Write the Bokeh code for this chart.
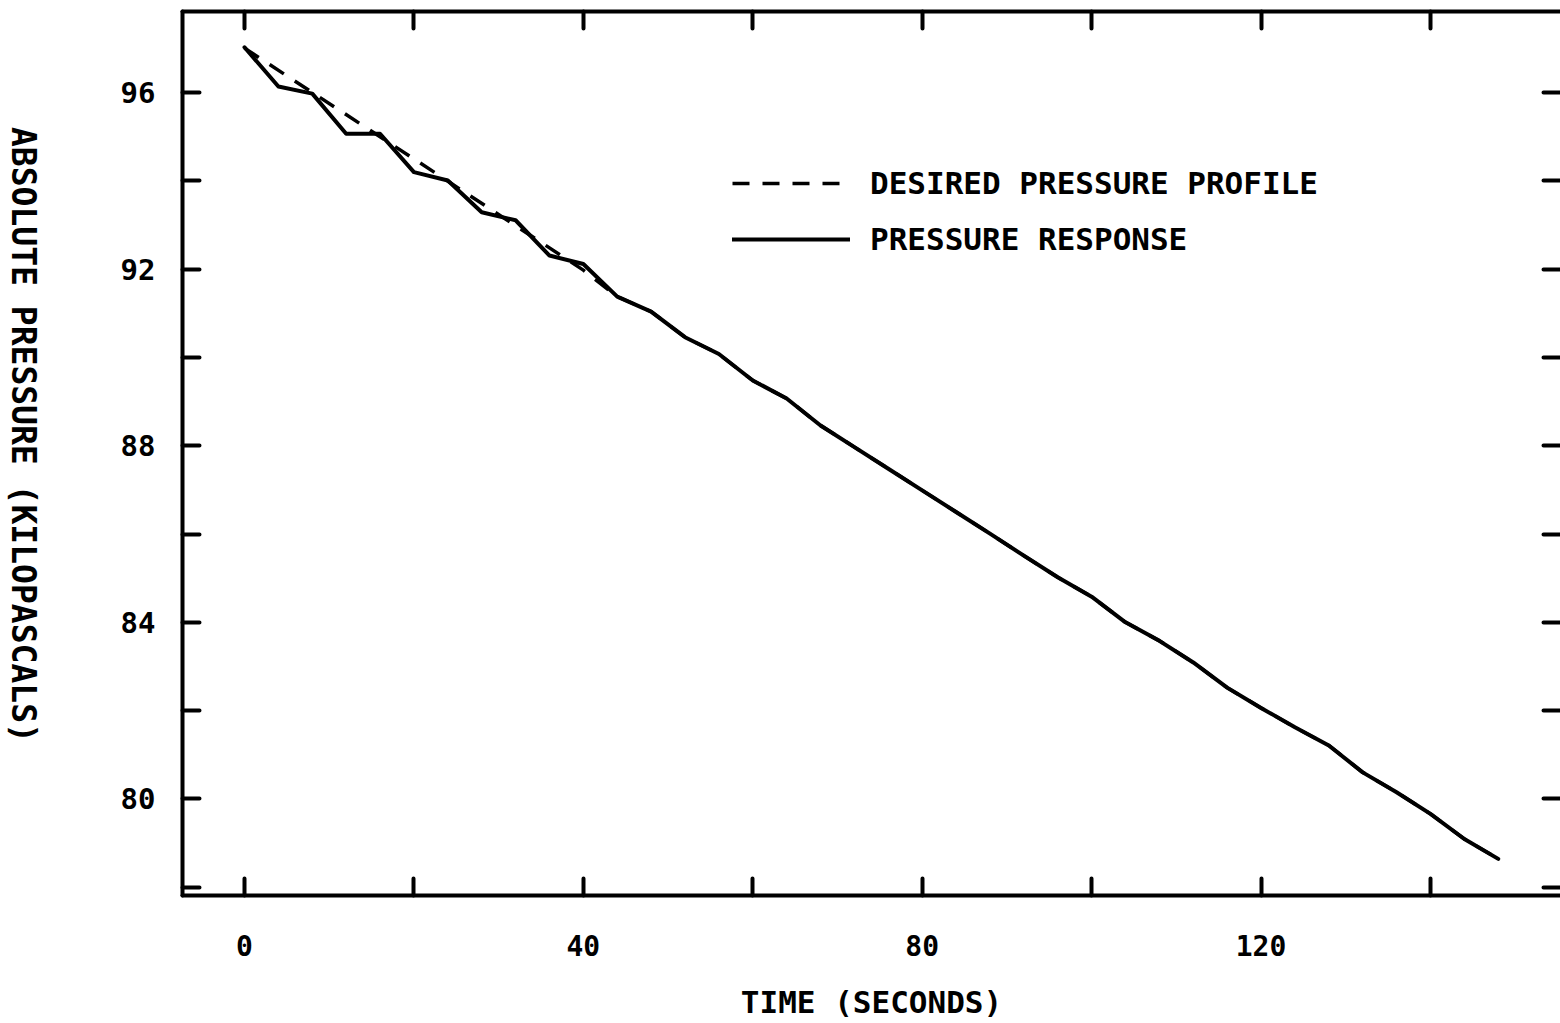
import math
from bokeh.plotting import figure
from bokeh.layouts import row
from bokeh.models import Range1d, FixedTicker, LinearAxis, Legend, LegendItem
from bokeh.core.properties import value
from bokeh.embed import file_html
from bokeh.resources import INLINE

# ---- data ----
time_s = [0, 4, 8, 12, 16, 20, 24, 28, 32, 36, 40, 44, 48, 52, 56, 60, 64, 68, 72,
          76, 80, 84, 88, 92, 96, 100, 104, 108, 112, 116, 120, 124, 128, 132, 136,
          140, 144, 148]
response_kpa = [97.03, 96.14, 95.98, 95.07, 95.07, 94.20, 94.01, 93.29, 93.11, 92.31,
                92.12, 91.38, 91.04, 90.46, 90.08, 89.48, 89.07, 88.46, 87.97, 87.48,
                86.99, 86.50, 86.01, 85.51, 85.02, 84.58, 84.00, 83.58, 83.09, 82.52,
                82.06, 81.62, 81.21, 80.60, 80.15, 79.66, 79.09, 78.64]

# desired profile: visible dashes up to ~44 s, hidden under the response afterwards
desired_time_s = [0, 20, 40, 44, 48, 52, 56, 60, 64, 68, 72, 76, 80, 84, 88, 92, 96,
                  100, 104, 108, 112, 116, 120, 124, 128, 132, 136, 140, 144, 148]
desired_kpa = [97.01, 94.50, 91.98, 91.38, 91.04, 90.46, 90.08, 89.48, 89.07, 88.46,
               87.97, 87.48, 86.99, 86.50, 86.01, 85.51, 85.02, 84.58, 84.00, 83.58,
               83.09, 82.52, 82.06, 81.62, 81.21, 80.60, 80.15, 79.66, 79.09, 78.64]

x_ticks = [0, 20, 40, 60, 80, 100, 120, 140]
x_tick_labels = ["0", "", "40", "", "80", "", "120", ""]
y_ticks = [78, 80, 82, 84, 86, 88, 90, 92, 94, 96]
y_tick_labels = ["", "80", "", "84", "", "88", "", "92", "", "96"]

x_title = "TIME (SECONDS)"
y_title = "ABSOLUTE PRESSURE (KILOPASCALS)"
series_names = ["DESIRED PRESSURE PROFILE", "PRESSURE RESPONSE"]

FONT = "DejaVu Sans Mono"
H = 1023
TITLE_W = 46

# ---- narrow strip on the left holding the y-axis title (reads top to bottom) ----
side = figure(width=TITLE_W, height=H, output_backend="svg", toolbar_location=None,
              x_range=Range1d(0, 1), y_range=Range1d(0, 1),
              x_axis_location=None, y_axis_location=None,
              min_border=0, min_border_left=0, min_border_right=0,
              min_border_top=0, min_border_bottom=0)
side.outline_line_color = None
side.grid.visible = False
side.text(x=[0.5], y=[1 - 490 / H], text=[y_title], angle=-math.pi / 2,
          text_align="center", text_baseline="middle",
          text_font=value(FONT), text_font_style="bold", text_font_size="33px",
          text_color="black")

# ---- main chart ----
p = figure(width=1560 - TITLE_W, height=H, output_backend="svg", toolbar_location=None,
           x_range=Range1d(-7.32, 155.35), y_range=Range1d(77.81, 97.84),
           x_axis_location=None, y_axis_location=None,
           min_border_left=182 - TITLE_W, min_border_right=0, min_border_top=11,
           min_border_bottom=128)
p.outline_line_color = None
p.grid.visible = False
p.background_fill_color = "white"
p.border_fill_color = "white"


def make_axis(ticks, labels, show_labels, draw_line):
    ax = LinearAxis(ticker=FixedTicker(ticks=ticks),
                    major_label_overrides={t: l for t, l in zip(ticks, labels)})
    ax.major_tick_in = 17
    ax.major_tick_out = 0
    ax.minor_tick_in = 0
    ax.minor_tick_out = 0
    ax.major_tick_line_color = "black"
    ax.major_tick_line_width = 4
    ax.major_tick_line_cap = "round"
    if draw_line:
        ax.axis_line_color = "black"
        ax.axis_line_width = 4
        ax.axis_line_cap = "round"
    else:
        ax.axis_line_color = None
    ax.major_label_text_font = FONT
    ax.major_label_text_font_style = "bold"
    ax.major_label_text_color = "black"
    if show_labels:
        ax.major_label_text_font_size = "28px"
    else:
        ax.major_label_text_font_size = "1px"
        ax.major_label_standoff = 0
    return ax


xb = make_axis(x_ticks, x_tick_labels, True, True)
xb.major_label_standoff = 39
xb.axis_label = x_title
xb.axis_label_text_font = FONT
xb.axis_label_text_font_style = "bold"
xb.axis_label_text_font_size = "31px"
xb.axis_label_text_color = "black"
xb.axis_label_standoff = 25
p.add_layout(xb, "below")

xt = make_axis(x_ticks, [""] * len(x_ticks), False, True)
p.add_layout(xt, "above")

yl = make_axis(y_ticks, y_tick_labels, True, True)
yl.major_label_standoff = 27
yl.major_label_text_font_size = "29px"
p.add_layout(yl, "left")

yr = make_axis(y_ticks, [""] * len(y_ticks), False, False)
p.add_layout(yr, "right")

desired_r = p.line(desired_time_s, desired_kpa, line_color="black", line_width=3.5,
                   line_dash="17 13")
resp_r = p.line(time_s, response_kpa, line_color="black", line_width=4,
                line_join="round", line_cap="round")

legend = Legend(items=[LegendItem(label=series_names[0], renderers=[desired_r]),
                       LegendItem(label=series_names[1], renderers=[resp_r])],
                location=(550, 636), orientation="vertical",
                glyph_width=118, glyph_height=40, label_height=40, spacing=16,
                padding=0, margin=0, label_standoff=20,
                border_line_color=None, background_fill_alpha=0,
                label_text_font=FONT, label_text_font_style="bold",
                label_text_font_size="31px", label_text_color="black",
                label_text_baseline="middle")
p.add_layout(legend)

layout = row(side, p, spacing=0)

open("out.html", "w").write(file_html(layout, INLINE))
